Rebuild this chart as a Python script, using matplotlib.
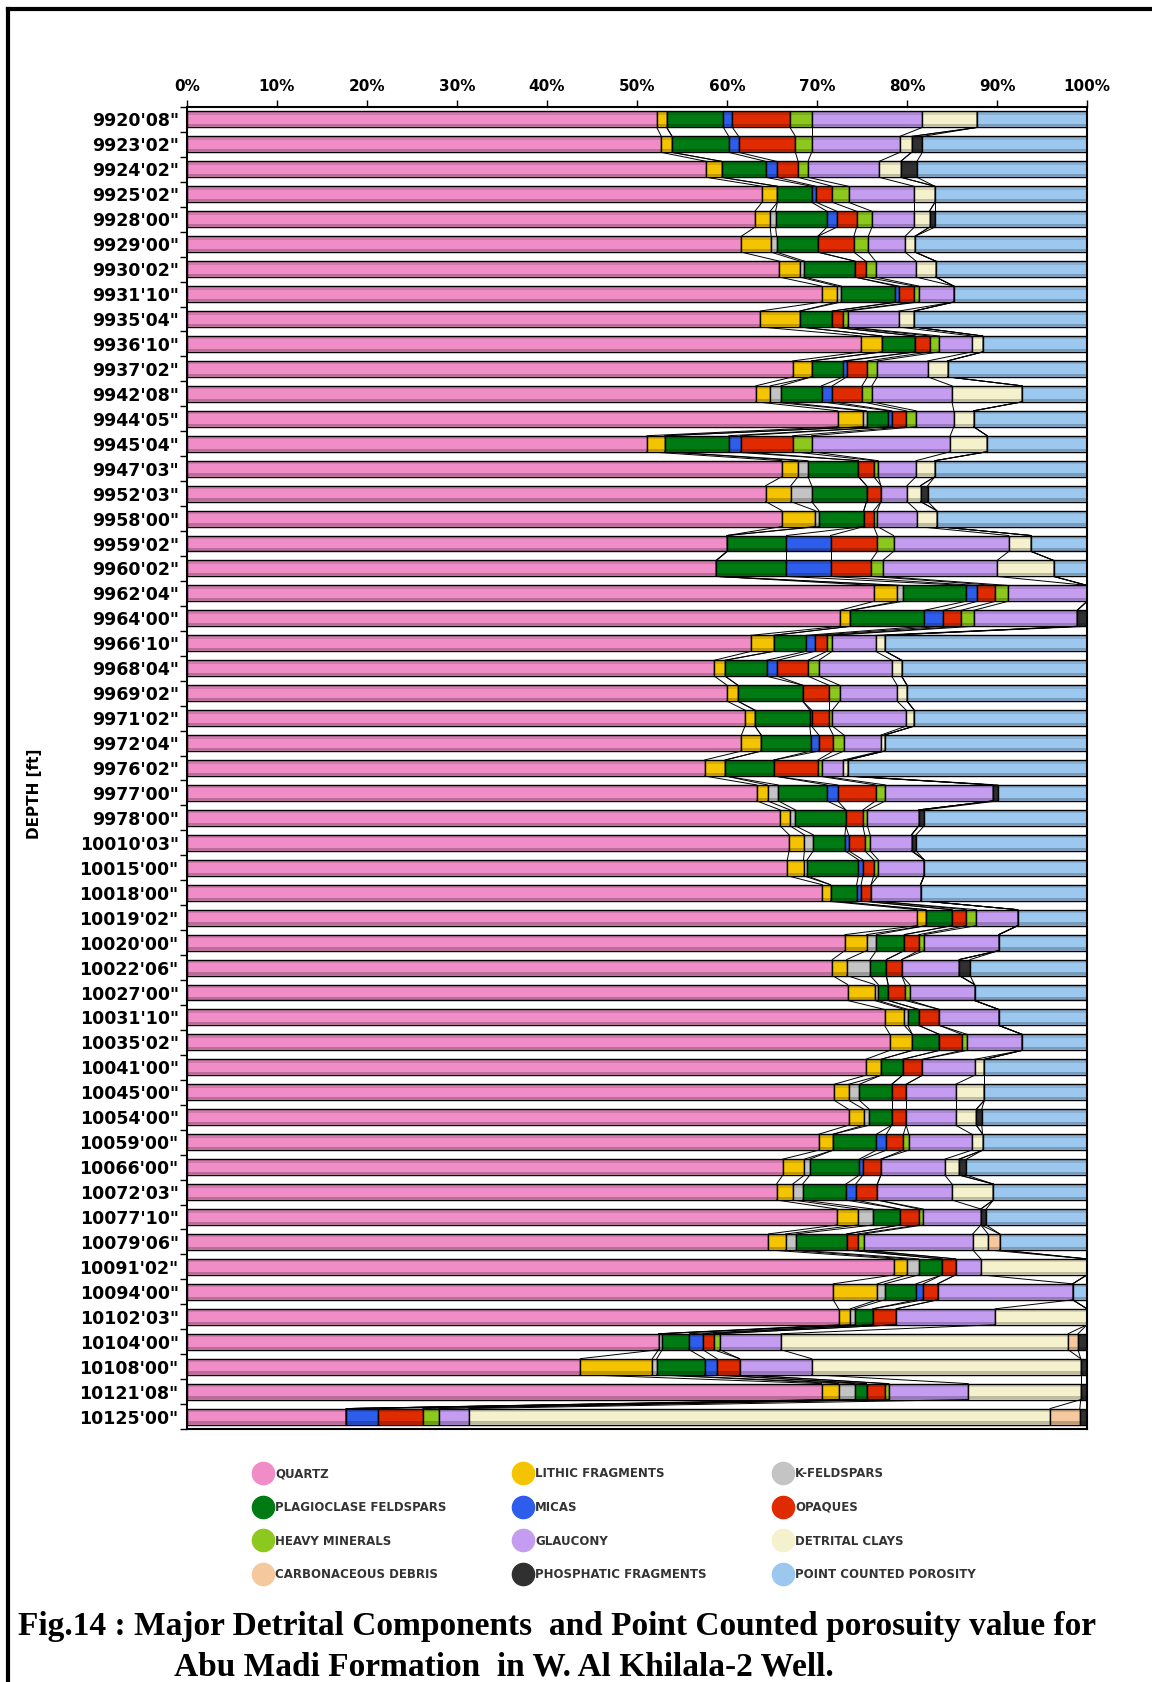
import matplotlib
matplotlib.use("Agg")
import matplotlib.pyplot as plt
from matplotlib.lines import Line2D
import numpy as np

depths = ["9920'08\"", "9923'02\"", "9924'02\"", "9925'02\"", "9928'00\"", "9929'00\"",
          "9930'02\"", "9931'10\"", "9935'04\"", "9936'10\"", "9937'02\"", "9942'08\"",
          "9944'05\"", "9945'04\"", "9947'03\"", "9952'03\"", "9958'00\"", "9959'02\"",
          "9960'02\"", "9962'04\"", "9964'00\"", "9966'10\"", "9968'04\"", "9969'02\"",
          "9971'02\"", "9972'04\"", "9976'02\"", "9977'00\"", "9978'00\"", "10010'03\"",
          "10015'00\"", "10018'00\"", "10019'02\"", "10020'00\"", "10022'06\"", "10027'00\"",
          "10031'10\"", "10035'02\"", "10041'00\"", "10045'00\"", "10054'00\"", "10059'00\"",
          "10066'00\"", "10072'03\"", "10077'10\"", "10079'06\"", "10091'02\"", "10094'00\"",
          "10102'03\"", "10104'00\"", "10108'00\"", "10121'08\"", "10125'00\""]

# percentages, one value per depth (top to bottom)
quartz = [52.2, 52.7, 57.7, 63.9, 63.1, 61.6, 65.8, 70.5, 63.7, 74.9, 67.3, 63.2, 72.3, 51.1,
          66.1, 64.3, 66.1, 60.0, 58.8, 76.3, 72.5, 62.7, 58.6, 60.0, 62.0, 61.6, 57.5, 63.3,
          65.9, 66.9, 66.7, 70.6, 81.1, 73.1, 71.7, 73.4, 77.5, 78.1, 75.4, 71.9, 73.5, 70.2,
          66.2, 65.5, 72.2, 64.6, 78.6, 71.8, 72.4, 52.4, 43.7, 70.5, 17.7]
lithic = [1.1, 1.2, 1.7, 1.7, 1.7, 3.3, 2.3, 1.7, 4.4, 2.3, 2.1, 1.6, 2.8, 2.0,
          1.8, 2.8, 3.7, 0.0, 0.0, 2.6, 1.2, 2.5, 1.2, 1.2, 1.1, 2.2, 2.3, 1.2,
          1.1, 1.7, 1.8, 0.9, 1.0, 2.4, 1.6, 3.0, 2.2, 2.5, 1.7, 1.6, 1.7, 1.6,
          2.4, 1.8, 2.3, 1.9, 1.4, 4.9, 1.3, 0.0, 8.0, 1.9, 0.0]
k_feldspar = [0.0, 0.0, 0.0, 0.0, 0.6, 0.6, 0.5, 0.5, 0.0, 0.0, 0.0, 1.2, 0.4, 0.0,
              1.1, 2.3, 0.4, 0.0, 0.0, 0.6, 0.0, 0.0, 0.0, 0.0, 0.0, 0.0, 0.0, 1.2,
              0.6, 1.0, 0.4, 0.0, 0.0, 1.1, 2.6, 0.4, 0.4, 0.0, 0.0, 1.2, 0.6, 0.0,
              0.6, 1.1, 1.7, 1.2, 1.3, 0.8, 0.5, 0.4, 0.5, 1.8, 0.0]
plagioclase = [6.3, 6.3, 4.9, 3.8, 5.7, 4.6, 5.6, 6.0, 3.6, 3.7, 3.5, 4.5, 2.4, 7.1,
               5.6, 6.1, 5.0, 6.6, 7.8, 7.0, 8.2, 3.6, 4.6, 7.2, 6.1, 5.5, 5.4, 5.4,
               5.6, 3.5, 5.7, 2.9, 2.9, 3.1, 1.8, 1.1, 1.2, 3.0, 2.4, 3.6, 2.5, 4.8,
               5.5, 4.8, 3.0, 5.6, 2.6, 3.5, 2.0, 3.0, 5.3, 1.3, 0.0]
micas = [1.0, 1.1, 1.2, 0.5, 1.1, 0.0, 0.0, 0.4, 0.0, 0.0, 0.4, 1.2, 0.4, 1.3,
         0.0, 0.0, 0.0, 4.9, 4.9, 1.3, 2.1, 1.0, 1.2, 0.0, 0.2, 0.9, 0.0, 1.2,
         0.0, 0.4, 0.5, 0.5, 0.0, 0.0, 0.0, 0.0, 0.0, 0.0, 0.0, 0.0, 0.0, 1.1,
         0.4, 1.1, 0.0, 0.0, 0.0, 0.8, 0.0, 1.5, 1.4, 0.0, 3.5]
opaques = [6.4, 6.3, 2.4, 1.8, 2.2, 4.0, 1.2, 1.7, 1.2, 1.6, 2.3, 3.3, 1.6, 5.8,
           1.7, 1.6, 1.1, 5.2, 4.5, 2.0, 2.0, 1.3, 3.4, 2.9, 1.9, 1.6, 4.9, 4.2,
           1.9, 1.8, 1.2, 1.1, 1.6, 1.6, 1.7, 1.9, 2.3, 2.5, 2.2, 1.6, 1.6, 1.9,
           2.0, 2.4, 2.1, 1.2, 1.5, 1.6, 2.6, 1.2, 2.5, 2.0, 5.0]
heavy = [2.4, 1.8, 1.1, 1.8, 1.7, 1.6, 1.1, 0.5, 0.5, 1.1, 1.1, 1.1, 1.1, 2.1,
         0.5, 0.0, 0.4, 1.8, 1.3, 1.4, 1.4, 0.6, 1.2, 1.2, 0.4, 1.2, 0.5, 1.1,
         0.5, 0.6, 0.5, 0.0, 1.1, 0.6, 0.0, 0.5, 0.0, 0.6, 0.0, 0.0, 0.0, 0.6,
         0.0, 0.0, 0.5, 0.7, 0.0, 0.0, 0.0, 0.7, 0.0, 0.5, 1.8]
glaucony = [12.3, 9.8, 7.9, 7.3, 4.7, 4.1, 4.5, 3.9, 5.7, 3.6, 5.6, 8.9, 4.2, 15.4,
            4.2, 2.9, 4.4, 12.8, 12.7, 8.8, 11.5, 4.8, 8.1, 6.4, 8.2, 4.1, 2.3, 11.9,
            5.7, 4.6, 5.1, 5.5, 4.6, 8.3, 6.4, 7.2, 6.6, 6.1, 5.8, 5.5, 5.5, 7.0,
            7.1, 8.3, 6.4, 12.1, 2.8, 15.0, 11.0, 6.8, 8.0, 8.8, 3.3]
clays = [6.1, 1.3, 2.4, 2.3, 1.7, 1.1, 2.2, 0.0, 1.7, 1.2, 2.2, 7.8, 2.2, 4.1,
         2.1, 1.5, 2.2, 2.5, 6.3, 0.0, 0.0, 1.1, 1.1, 1.1, 0.9, 0.4, 0.5, 0.0,
         0.0, 0.0, 0.0, 0.0, 0.0, 0.0, 0.0, 0.0, 0.0, 0.0, 1.1, 3.2, 2.3, 1.2,
         1.6, 4.6, 0.0, 1.7, 11.8, 0.0, 10.2, 31.9, 29.9, 12.5, 64.6]
carbonaceous = [0.0] * 45 + [1.3, 0.0, 0.0, 0.0, 1.1, 0.0, 0.0, 3.3]
phosphatic = [0.0, 1.2, 1.8, 0.0, 0.6, 0.0, 0.0, 0.0, 0.0, 0.0, 0.0, 0.0, 0.0, 0.0,
              0.0, 0.8, 0.0, 0.0, 0.0, 0.0, 1.1, 0.0, 0.0, 0.0, 0.0, 0.0, 0.0, 0.6,
              0.6, 0.5, 0.0, 0.0, 0.0, 0.0, 1.2, 0.0, 0.0, 0.0, 0.0, 0.0, 0.6, 0.0,
              0.8, 0.0, 0.6, 0.0, 0.0, 0.0, 0.0, 1.0, 0.7, 0.7, 0.8]
porosity = [12.2, 18.3, 18.9, 16.9, 16.9, 19.1, 16.8, 14.8, 19.2, 11.6, 15.5, 7.2, 12.6, 11.1,
            16.9, 17.7, 16.7, 6.2, 3.7, 0.0, 0.0, 22.4, 20.6, 20.0, 19.2, 22.5, 26.6, 9.9,
            18.1, 19.0, 18.1, 18.5, 7.7, 9.8, 13.0, 12.5, 9.8, 7.2, 11.4, 11.4, 11.7, 11.6,
            13.4, 10.4, 11.2, 9.7, 0.0, 1.6, 0.0, 0.0, 0.0, 0.0, 0.0]

names = ["QUARTZ", "LITHIC FRAGMENTS", "K-FELDSPARS", "PLAGIOCLASE FELDSPARS", "MICAS",
         "OPAQUES", "HEAVY MINERALS", "GLAUCONY", "DETRITAL CLAYS", "CARBONACEOUS DEBRIS",
         "PHOSPHATIC FRAGMENTS", "POINT COUNTED POROSITY"]
colors = ["#F08CC6", "#F5C400", "#C4C4C4", "#007A12", "#2E5CEB", "#E02A00",
          "#8DC81E", "#C49CF0", "#F4F1CC", "#F6C89E", "#303030", "#9CC8F0"]

series = [quartz, lithic, k_feldspar, plagioclase, micas, opaques, heavy, glaucony,
          clays, carbonaceous, phosphatic, porosity]

fig = plt.figure(figsize=(11.52, 16.82), dpi=100)
ax = fig.add_axes([0.1623, 0.1504, 0.7813, 0.786])

y = np.arange(len(depths))
h = 0.64
left = np.zeros(len(depths))
for vals, c, n in zip(series, colors, names):
    vals = np.array(vals)
    ax.barh(y, vals, left=left, height=h, color=c, edgecolor="black", linewidth=1.0, label=n)
    left = left + vals
    # series lines between consecutive bars
    for i in range(len(depths) - 1):
        ax.plot([left[i], left[i + 1]], [y[i] + h / 2, y[i + 1] - h / 2],
                color="black", lw=0.7, zorder=1)

# cylinder-like shading on the bars
ax.barh(y - h * 0.36, left, height=h * 0.16, color="black", alpha=0.12, lw=0)
ax.barh(y + h * 0.37, left, height=h * 0.14, color="black", alpha=0.22, lw=0)

ax.set_xlim(0, 100)
ax.set_ylim(len(depths) - 0.5, -0.5)
ax.xaxis.tick_top()
ax.set_xticks(np.arange(0, 101, 10))
ax.set_xticklabels([f"{v}%" for v in range(0, 101, 10)], fontsize=11, fontweight="bold")
ax.tick_params(axis="x", length=5, width=1, pad=4)
ax.set_yticks(y)
ax.set_yticklabels(depths, fontsize=12.5, fontweight="bold")
ax.set_yticks(np.arange(-0.5, len(depths), 1), minor=True)
ax.tick_params(axis="y", which="major", length=0, pad=6)
ax.tick_params(axis="y", which="minor", length=5, width=1)
for s in ax.spines.values():
    s.set_linewidth(1.5)

fig.text(0.030, 0.528, "DEPTH [ft]", rotation=90, fontsize=11, fontweight="bold",
         ha="center", va="center")

order = [0, 3, 6, 9, 1, 4, 7, 10, 2, 5, 8, 11]
handles = [Line2D([], [], marker="o", ls="", markersize=16, markerfacecolor=colors[k],
                  markeredgecolor=colors[k]) for k in order]
fig.legend(handles, [names[k] for k in order], ncol=3, loc="upper left",
           bbox_to_anchor=(0.209, 0.134), frameon=False,
           handletextpad=0.0, columnspacing=5.5, labelspacing=1.75,
           prop={"size": 8.5, "weight": "bold"}, labelcolor="#333333")

serif = {"family": "Liberation Serif", "weight": "bold", "size": 24}
fig.text(0.016, 1 - 1627 / 1682, "Fig.14 : Major Detrital Components  and Point Counted porosuity value for",
         ha="left", va="center", fontdict=serif)
fig.text(0.151, 1 - 1667 / 1682, "Abu Madi Formation  in W. Al Khilala-2 Well.",
         ha="left", va="center", fontdict=serif)

# outer frame
fig.add_artist(Line2D([0.007, 1.0], [0.9945, 0.9945], color="black", lw=3, transform=fig.transFigure))
fig.add_artist(Line2D([0.007, 0.007], [0.0, 0.9945], color="black", lw=3, transform=fig.transFigure))

fig.savefig("out.png", dpi=100)
